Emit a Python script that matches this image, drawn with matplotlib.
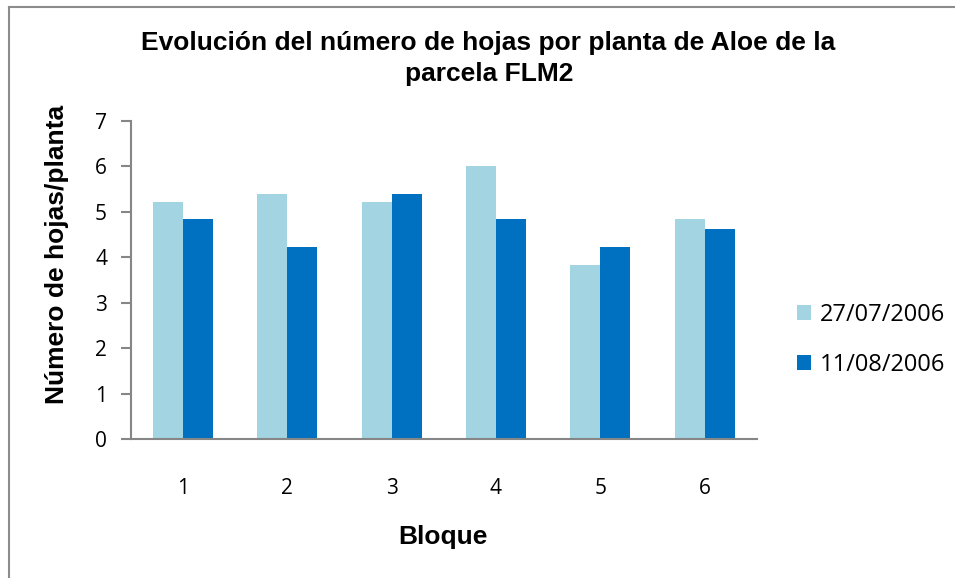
import matplotlib
matplotlib.use("Agg")
import matplotlib.pyplot as plt
from matplotlib.lines import Line2D
import numpy as np

bloques = ["1", "2", "3", "4", "5", "6"]
serie_27jul = [5.22, 5.4, 5.22, 6.0, 3.82, 4.83]
serie_11ago = [4.83, 4.22, 5.4, 4.83, 4.22, 4.62]
etiquetas = ["27/07/2006", "11/08/2006"]
yticks = [0, 1, 2, 3, 4, 5, 6, 7]

color_claro = "#A2D4E1"
color_oscuro = "#0070C0"
gris = "#868686"
tick_font = "Open Sans"
bold_font = "Liberation Sans"

W, H = 955, 578
fig = plt.figure(figsize=(W / 100, H / 100), dpi=100)
ax = fig.add_axes([130.7 / W, 1 - 439.3 / H, (756.7 - 130.7) / W, (439.3 - 120.7) / H])

x = np.arange(len(bloques))
bw = 0.2875
ax.bar(x - bw / 2, serie_27jul, bw, color=color_claro, label=etiquetas[0])
ax.bar(x + bw / 2, serie_11ago, bw, color=color_oscuro, label=etiquetas[1])

ax.set_xlim(-0.5, len(bloques) - 0.5)
ax.set_ylim(0, 7)
ax.set_yticks(yticks)
ax.set_yticklabels([str(v) for v in yticks], fontfamily=tick_font, fontsize=15)
ax.set_xticks(x)
ax.set_xticklabels(bloques, fontfamily=tick_font, fontsize=15)

for s in ["top", "right"]:
    ax.spines[s].set_visible(False)
for s in ["left", "bottom"]:
    ax.spines[s].set_color(gris)
    ax.spines[s].set_linewidth(1.5)
ax.tick_params(axis="y", direction="out", length=7, width=1.5, color=gris, pad=10)
ax.tick_params(axis="x", length=0, pad=28)

fig.text(443 / W, 1 - 544 / H, "Bloque", ha="center", va="baseline",
         fontfamily=bold_font, fontweight="bold", fontsize=19)
fig.text(57 / W, 1 - 254 / H, "Número de hojas/planta", rotation=90, ha="center", va="center",
         fontfamily=bold_font, fontweight="bold", fontsize=19)

fig.text(488 / W, 1 - 50 / H, "Evolución del número de hojas por planta de Aloe de la",
         ha="center", va="baseline", fontfamily=bold_font, fontweight="bold", fontsize=19)
fig.text(489 / W, 1 - 81 / H, "parcela FLM2",
         ha="center", va="baseline", fontfamily=bold_font, fontweight="bold", fontsize=19)

leg = fig.legend(loc="center left", bbox_to_anchor=(776 / W, 1 - 340 / H), frameon=False,
                 prop={"family": tick_font, "size": 17}, handlelength=0.6, handleheight=0.6,
                 handletextpad=0.35, labelspacing=1.1)

# outer chart frame (top and left edges)
fig.add_artist(Line2D([9 / W, 9 / W], [0, 1 - 7 / H], transform=fig.transFigure, color="#8C8C8C", lw=1.5))
fig.add_artist(Line2D([9 / W, 1], [1 - 7 / H, 1 - 7 / H], transform=fig.transFigure, color="#8C8C8C", lw=1.5))

fig.savefig("out.png", dpi=100)
